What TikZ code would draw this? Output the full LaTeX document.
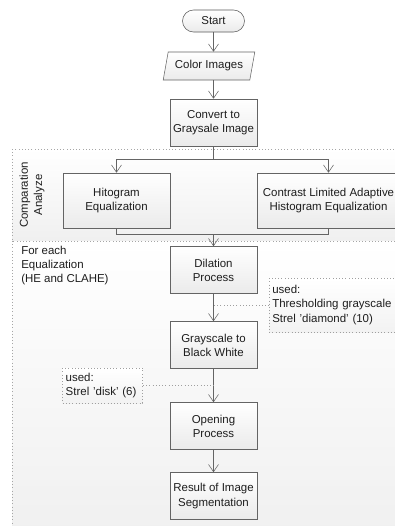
\documentclass[tikz,border=0pt]{standalone}
\usepackage{fontspec}
\setmainfont{Liberation Sans}
\usepackage{xcolor}
\usetikzlibrary{positioning, arrows.meta, shapes.geometric, calc}

\definecolor{lineg}{HTML}{646464}
\definecolor{txtg}{HTML}{1E1E1E}

\begin{document}
\begin{tikzpicture}[
    x=0.75pt, y=-0.75pt,
    font=\fontsize{8.6}{10.6}\selectfont, text=txtg,
    box/.style={rectangle, draw=lineg, top color=white, bottom color=gray!16, minimum width=65.25pt, minimum height=35.25pt, align=center, inner sep=2pt},
    wbox/.style={box, minimum height=41.25pt},
    startbox/.style={box, rounded corners=8.25pt, minimum width=46.5pt, minimum height=16.5pt, draw=gray!70!black},
    iobox/.style={trapezium, trapezium left angle=72, trapezium right angle=108, trapezium stretches=true, draw=lineg, top color=white, bottom color=gray!16, minimum width=69pt, minimum height=21pt, inner sep=1pt},
    notebox/.style={rectangle, draw=gray!75, dotted, top color=white, bottom color=gray!10, align=left, inner xsep=2.25pt, inner ysep=2pt},
    region/.style={draw=gray!70, dotted, top color=white, bottom color=gray!12},
    arrow/.style={-{Straight Barb[length=5.5pt,width=7.5pt]}, draw=lineg},
    link/.style={draw=lineg},
    hint/.style={draw=gray!75, dotted}
]
\useasboundingbox (0,0) rectangle (395,526);

% Regions
\path[region] (12,149) rectangle (410,241);
\path[region] (12,241) rectangle (410,540);
\node[rotate=90, align=center] (cmp) at (32,195) {Comparation\\Analyze};
\node[anchor=north west, align=left, inner sep=0pt] (each) at (21,246) {For each\\Equalization\\(HE and CLAHE)};

% Main flow
\node[startbox] (start) at (213.5,21) {Start};
\node[iobox] (color) at (209,66) {Color Images};
\node[box] (convert) at (213.5,122.5) {Convert to\\Graysale Image};
\node[wbox, minimum width=80.25pt] (hist) at (116.5,200.5) {Hitogram\\Equalization};
\node[wbox, minimum width=106.5pt] (clahe) at (328.5,200.5) {Contrast Limited Adaptive\\Histogram Equalization};
\node[box] (dil) at (213.5,270) {Dilation\\Process};
\node[box] (gbw) at (213.5,345) {Grayscale to\\Black White};
\node[box] (open) at (213.5,426) {Opening\\Process};
\node[box] (result) at (213.5,496) {Result of Image\\Segmentation};

% Notes
\node[notebox, anchor=west, text width=100pt, minimum height=40.5pt] (note1) at (269,305) {used:\\Thresholding grayscale\\Strel 'diamond' (10)};
\node[notebox, anchor=east, text width=55.5pt, minimum height=26.25pt] (note2) at (143,385.5) {used:\\Strel 'disk' (6)};

\coordinate (split) at (213.5,159);
\coordinate (join) at (213.5,234);

% Paths
\draw[arrow] (start) -- (convert.north |- color.north);
\draw[arrow] (color.south -| convert.north) -- (convert);
\draw[link] (convert) -- (split);
\draw[arrow] (split) -| (hist.north);
\draw[arrow] (split) -| (clahe.north);
\draw[link] (hist.south) |- (join);
\draw[link] (clahe.south) |- (join);
\draw[arrow] (join) -- (dil);
\draw[arrow] (dil) -- (gbw);
\draw[arrow] (gbw) -- (open);
\draw[arrow] (open) -- (result);
\draw[hint] (note1.west) -- (note1.west -| dil.south);
\draw[hint] (note2.east) -- (note2.east -| gbw.south);

\end{tikzpicture}
\end{document}
